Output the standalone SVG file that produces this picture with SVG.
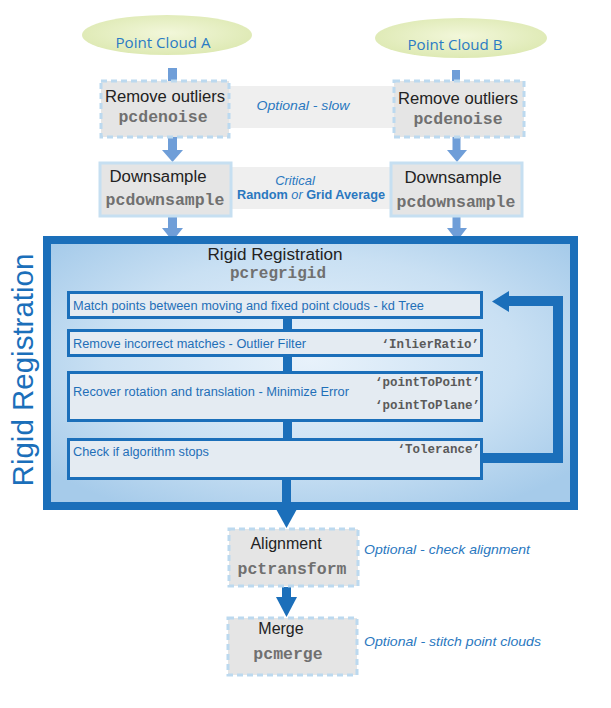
<svg xmlns="http://www.w3.org/2000/svg" width="611" height="708" viewBox="0 0 611 708">
<defs>
<radialGradient id="cloud" cx="50%" cy="45%" r="60%">
<stop offset="0" stop-color="#f2f7da"/>
<stop offset="1" stop-color="#dce8b0"/>
</radialGradient>
<radialGradient id="bigfill" cx="50%" cy="45%" r="65%">
<stop offset="0" stop-color="#e8f2fb"/>
<stop offset="0.6" stop-color="#c9e0f3"/>
<stop offset="1" stop-color="#a6cbea"/>
</radialGradient>
<style>
.sans{font-family:"Liberation Sans",Arial,sans-serif}
.mono{font-family:"Liberation Mono","Courier New",monospace;font-weight:bold;fill:#707070}
.head{font-family:"Liberation Sans",Arial,sans-serif;font-size:16px;fill:#222}
.cloudtxt{font-family:"Open Sans","Noto Sans",sans-serif;font-size:15px;fill:#2a7bc4}
.opt{font-family:"Liberation Sans",Arial,sans-serif;font-style:italic;font-size:13px;fill:#2a78c0}
.step{font-family:"Liberation Sans",Arial,sans-serif;font-size:12.5px;fill:#1f6fb8}
.param{font-family:"Liberation Mono","Courier New",monospace;font-weight:bold;font-size:12.5px;fill:#5a5a5a}
.dash{fill:#e5e5e5;stroke:#bcd9ef;stroke-width:3;stroke-dasharray:6 4}
.solid{fill:#e5e5e5;stroke:#c6dff1;stroke-width:3}
.band{fill:#efefef}
.lb{fill:#6f9ed8}
.db{fill:#1b6fba}
.inner{fill:#e4ebf2;stroke:#1b6fba;stroke-width:3}
</style>
</defs>

<!-- bands behind -->
<rect class="band" x="228" y="86" width="168" height="42"/>
<rect class="band" x="230" y="167" width="162" height="42"/>

<g id="connectors">
<rect class="lb" x="168" y="68" width="9" height="13"/>
<rect class="lb" x="452" y="70" width="8" height="11"/>
<rect class="lb" x="168" y="137" width="9" height="14"/>
<polygon class="lb" points="162,150 183,150 172.5,162"/>
<rect class="lb" x="452.5" y="137" width="8" height="14"/>
<polygon class="lb" points="447,150 467,150 457,162"/>
<rect class="lb" x="168" y="217" width="9" height="12"/>
<polygon class="lb" points="162,228 183,228 172.5,241"/>
<rect class="lb" x="452.5" y="217" width="8" height="12"/>
<polygon class="lb" points="447,228 467,228 457,241"/>
</g>

<g id="cloudA">
<ellipse cx="167" cy="35" rx="85" ry="20" fill="url(#cloud)"/>
<text class="cloudtxt" x="163" y="48" text-anchor="middle" textLength="95" lengthAdjust="spacingAndGlyphs">Point Cloud A</text>
</g>
<g id="cloudB">
<ellipse cx="461" cy="38" rx="86" ry="20" fill="url(#cloud)"/>
<text class="cloudtxt" x="455" y="50" text-anchor="middle" textLength="95" lengthAdjust="spacingAndGlyphs">Point Cloud B</text>
</g>

<g id="denoiseA">
<rect class="dash" x="101" y="81" width="128" height="56"/>
<text class="head" x="165" y="102" text-anchor="middle" textLength="120" lengthAdjust="spacingAndGlyphs">Remove outliers</text>
<text class="mono" x="163" y="122" font-size="16.5" text-anchor="middle">pcdenoise</text>
</g>
<g id="optSlow">
<text class="opt" x="303" y="110" text-anchor="middle" textLength="93" lengthAdjust="spacingAndGlyphs">Optional - slow</text>
</g>
<g id="denoiseB">
<rect class="dash" x="394" y="81" width="130" height="56"/>
<text class="head" x="458" y="104" text-anchor="middle" textLength="120" lengthAdjust="spacingAndGlyphs">Remove outliers</text>
<text class="mono" x="458" y="124" font-size="16.5" text-anchor="middle">pcdenoise</text>
</g>

<g id="downA">
<rect class="solid" x="100" y="163" width="131" height="53"/>
<text class="head" x="158" y="182" text-anchor="middle" textLength="97" lengthAdjust="spacingAndGlyphs">Downsample</text>
<text class="mono" x="165" y="205" font-size="16.5" text-anchor="middle">pcdownsample</text>
</g>
<g id="critical">
<text class="opt" x="295" y="185" text-anchor="middle" font-size="12">Critical</text>
<text class="sans" x="311" y="199" text-anchor="middle" font-size="12" font-weight="bold" fill="#2a78c0" textLength="148" lengthAdjust="spacingAndGlyphs">Random <tspan font-style="italic" font-weight="normal">or</tspan> Grid Average</text>
</g>
<g id="downB">
<rect class="solid" x="391" y="163" width="131" height="53"/>
<text class="head" x="453" y="183" text-anchor="middle" textLength="97" lengthAdjust="spacingAndGlyphs">Downsample</text>
<text class="mono" x="456" y="207" font-size="16.5" text-anchor="middle">pcdownsample</text>
</g>

<g id="rigidLabel">
<text class="sans" transform="translate(33,370) rotate(-90)" text-anchor="middle" font-size="29.5" fill="#1b6fba">Rigid Registration</text>
</g>

<g id="rigidBox">
<rect x="47" y="240" width="527" height="266" fill="url(#bigfill)" stroke="#1b6fba" stroke-width="8"/>
<text class="head" x="275" y="260" text-anchor="middle" textLength="135" lengthAdjust="spacingAndGlyphs">Rigid Registration</text>
<text class="mono" x="278" y="278" font-size="16" text-anchor="middle">pcregrigid</text>
</g>

<g id="innerConnectors">
<rect class="db" x="283" y="316" width="9" height="15"/>
<rect class="db" x="283" y="355" width="9" height="18"/>
<rect class="db" x="283" y="419" width="9" height="21"/>
<rect class="db" x="282" y="477" width="9" height="34"/>
<polygon class="db" points="276,509 297,509 286.5,528"/>
<rect class="db" x="282" y="587" width="9" height="12"/>
<polygon class="db" points="276,597 297,597 286.5,617"/>
<path d="M482,458 H558 V301 H506" fill="none" stroke="#1b6fba" stroke-width="10"/>
<polygon class="db" points="509,291 509,312 492,301.5"/>
</g>

<g id="step1">
<rect class="inner" x="68.5" y="292.5" width="413" height="25"/>
<text class="step" x="73" y="310" textLength="351" lengthAdjust="spacingAndGlyphs">Match points between moving and fixed point clouds - kd Tree</text>
</g>
<g id="step2">
<rect class="inner" x="68.5" y="330.5" width="413" height="25"/>
<text class="step" x="73" y="348" textLength="233" lengthAdjust="spacingAndGlyphs">Remove incorrect matches - Outlier Filter</text>
<text class="param" x="479" y="348" text-anchor="end">‘InlierRatio’</text>
</g>
<g id="step3">
<rect class="inner" x="68.5" y="372.5" width="413" height="48"/>
<text class="step" x="73" y="396" textLength="276" lengthAdjust="spacingAndGlyphs">Recover rotation and translation - Minimize Error</text>
<text class="param" x="480" y="386" text-anchor="end" font-size="13">‘pointToPoint’</text>
<text class="param" x="480" y="409" text-anchor="end" font-size="13">‘pointToPlane’</text>
</g>
<g id="step4">
<rect class="inner" x="68.5" y="439.5" width="413" height="39"/>
<text class="step" x="73" y="456" textLength="136" lengthAdjust="spacingAndGlyphs">Check if algorithm stops</text>
<text class="param" x="480" y="453" text-anchor="end" font-size="13">‘Tolerance’</text>
</g>

<g id="alignment">
<rect class="dash" x="229" y="529" width="129" height="57"/>
<text class="head" x="286" y="549" text-anchor="middle">Alignment</text>
<text class="mono" x="292" y="574" font-size="16.5" text-anchor="middle">pctransform</text>
<text class="opt" x="364" y="554" textLength="166" lengthAdjust="spacingAndGlyphs">Optional - check alignment</text>
</g>

<g id="merge">
<rect class="dash" x="228" y="618" width="129" height="57"/>
<text class="head" x="281" y="634" text-anchor="middle">Merge</text>
<text class="mono" x="288" y="659" font-size="16.5" text-anchor="middle">pcmerge</text>
<text class="opt" x="364" y="646" textLength="177" lengthAdjust="spacingAndGlyphs">Optional - stitch point clouds</text>
</g>
</svg>
